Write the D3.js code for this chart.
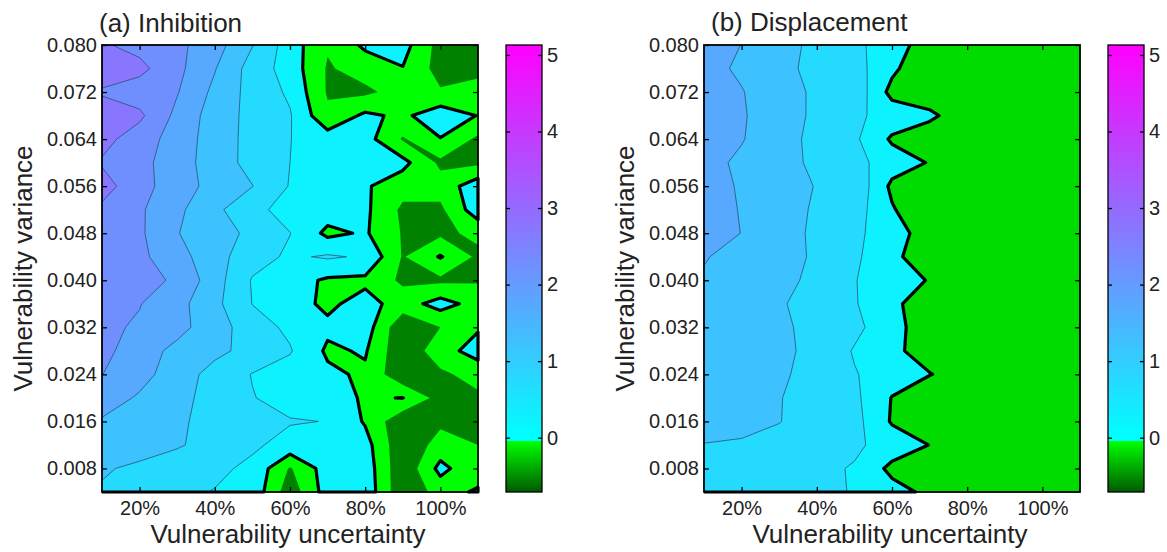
<!DOCTYPE html>
<html>
<head>
<meta charset="utf-8">
<title>Inhibition and displacement</title>
<script src="https://cdn.jsdelivr.net/npm/d3@7"></script>
<style>
  body { margin: 0; background: #fff; }
  svg text { font-family: "Liberation Sans", Arial, sans-serif; fill: #222; }
</style>
</head>
<body>
<svg id="chart" width="1167" height="552"></svg>
<script>
// grid columns: vulnerability uncertainty (%), rows: vulnerability variance (top row first)
const uncertainty = [10, 20, 30, 40, 50, 60, 70, 80, 90, 100, 110];
const variance = [0.080, 0.076, 0.072, 0.068, 0.064, 0.060, 0.056, 0.052, 0.048, 0.044,
                  0.040, 0.036, 0.032, 0.028, 0.024, 0.020, 0.016, 0.012, 0.008, 0.004];
const xTicks = [20, 40, 60, 80, 100];
const yTicks = [0.008, 0.016, 0.024, 0.032, 0.040, 0.048, 0.056, 0.064, 0.072, 0.080];
const cbTicks = [0, 1, 2, 3, 4, 5];

const inhibition = [
  [2.56, 2.34, 2.12, 1.71, 1.02, 0.25, -0.45, 0.10, 0.20, -0.70, -0.70],
  [2.75, 2.64, 2.13, 1.53, 0.79, 0.28, -0.55, -0.30, -0.02, -0.70, -0.65],
  [2.45, 2.24, 2.03, 1.38, 0.82, 0.42, -0.55, -0.60, -0.30, -0.45, -0.30],
  [2.75, 2.60, 1.87, 1.27, 0.85, 0.54, -0.40, 0.10, -0.10, 0.30, -0.02],
  [2.66, 2.25, 1.78, 1.26, 0.84, 0.51, 0.25, 0.20, -0.55, -0.02, -0.60],
  [2.45, 2.15, 1.74, 1.25, 0.84, 0.50, 0.35, 0.20, 0.15, -0.60, -0.60],
  [2.70, 2.19, 1.72, 1.34, 1.01, 0.47, 0.27, 0.06, -0.30, -0.30, 0.30],
  [2.40, 2.07, 1.61, 1.11, 0.65, 0.30, 0.25, 0.10, -0.60, -0.60, 0.30],
  [2.35, 2.08, 1.52, 1.21, 0.89, 0.51, -0.12, 0.06, -0.54, -0.60, -0.40],
  [2.30, 2.11, 1.69, 1.19, 0.70, 0.42, 0.56, 0.44, -0.54, 0.04, -0.60],
  [2.30, 2.14, 1.94, 1.21, 0.46, 0.20, -0.07, -0.11, -0.60, -0.60, -0.55],
  [2.30, 2.02, 1.67, 1.13, 0.49, 0.20, -0.10, 0.19, -0.23, 0.20, -0.20],
  [2.10, 1.94, 1.65, 1.24, 0.72, 0.40, 0.10, 0.25, -0.90, -0.50, -0.05],
  [2.15, 1.72, 1.37, 1.12, 0.84, 0.54, -0.08, 0.05, -0.90, -0.20, 0.20],
  [2.01, 1.67, 1.25, 0.82, 0.48, 0.29, 0.10, -0.08, -0.90, -0.60, -0.30],
  [1.74, 1.44, 1.14, 0.83, 0.52, 0.33, 0.15, -0.04, 0.01, -0.70, -0.60],
  [1.45, 1.26, 1.07, 0.85, 0.60, 0.53, 0.49, -0.05, -0.90, -0.60, -0.60],
  [1.35, 1.20, 1.05, 0.82, 0.57, 0.35, 0.22, 0.20, -0.90, -0.30, -0.50],
  [1.05, 0.91, 0.75, 0.60, 0.40, -0.55, 0.25, 0.30, -0.90, 0.15, -0.40],
  [0.95, 0.75, 0.60, 0.48, 0.35, -0.80, 0.24, 0.35, -0.90, -0.30, 0.10]
];

const displacement = [
  [1.81, 1.49, 1.18, 0.88, 0.63, 0.21, -0.23, -0.35, -0.40, -0.40, -0.40],
  [1.69, 1.41, 1.14, 0.86, 0.70, 0.11, -0.45, -0.40, -0.40, -0.45, -0.40],
  [1.90, 1.53, 1.15, 0.94, 0.84, -0.16, -0.45, -0.40, -0.45, -0.40, -0.40],
  [1.87, 1.55, 1.22, 0.91, 0.60, 0.30, 0.15, -0.45, -0.40, -0.40, -0.45],
  [1.88, 1.53, 1.19, 0.87, 0.59, -0.07, -0.45, -0.40, -0.40, -0.45, -0.40],
  [1.66, 1.41, 1.16, 0.91, 0.66, 0.25, -0.03, -0.45, -0.40, -0.40, -0.40],
  [1.70, 1.45, 1.19, 0.98, 0.89, -0.11, -0.45, -0.40, -0.45, -0.40, -0.45],
  [1.74, 1.47, 1.20, 0.94, 0.73, 0.05, -0.45, -0.40, -0.40, -0.40, -0.40],
  [1.78, 1.49, 1.20, 0.91, 0.62, 0.20, -0.22, -0.40, -0.45, -0.40, -0.40],
  [1.53, 1.34, 1.16, 0.94, 0.59, 0.13, -0.33, -0.40, -0.40, -0.45, -0.40],
  [1.45, 1.29, 1.12, 0.90, 0.52, 0.24, -0.03, -0.40, -0.40, -0.40, -0.45],
  [1.40, 1.23, 1.05, 0.81, 0.54, 0.12, -0.31, -0.45, -0.40, -0.40, -0.40],
  [1.38, 1.23, 1.08, 0.87, 0.63, 0.17, -0.28, -0.40, -0.40, -0.45, -0.40],
  [1.35, 1.22, 1.09, 0.89, 0.46, 0.11, -0.22, -0.40, -0.45, -0.40, -0.40],
  [1.33, 1.20, 1.07, 0.84, 0.53, 0.27, 0.02, -0.23, -0.40, -0.40, -0.45],
  [1.30, 1.16, 1.02, 0.80, 0.61, -0.02, -0.40, -0.40, -0.40, -0.40, -0.40],
  [1.25, 1.13, 1.01, 0.85, 0.67, -0.05, -0.40, -0.45, -0.40, -0.40, -0.40],
  [0.98, 0.95, 0.90, 0.75, 0.59, 0.29, -0.01, -0.35, -0.40, -0.40, -0.40],
  [0.92, 0.85, 0.75, 0.62, 0.46, -0.13, -0.40, -0.40, -0.40, -0.40, -0.40],
  [0.88, 0.80, 0.70, 0.58, 0.48, 0.18, -0.11, -0.40, -0.40, -0.40, -0.40]
];

const panels = [
  { id: "a", title: "(a) Inhibition", values: inhibition, left: 102, titleX: 99, titleY: 32,
    levels: [-0.5, 0, 0.5, 1, 1.5, 2, 2.5], low: "#008200", neg: "#00ff00", cbLeft: 506 },
  { id: "b", title: "(b) Displacement", values: displacement, left: 704, titleX: 711, titleY: 31,
    levels: [0, 0.5, 1, 1.5], low: "#00dc00", neg: "#00dc00", cbLeft: 1108 }
];

const plotTop = 45, plotBottom = 492, plotW = 376, cbW = 36;
const cmin = -0.71, cmax = 5.13;
const cool = d3.interpolateRgb("#00ffff", "#ff00ff");

const svg = d3.select("#chart");
const defs = svg.append("defs");

// colorbar gradient
const grad = defs.append("linearGradient").attr("id", "cbgrad")
  .attr("x1", 0).attr("y1", 1).attr("x2", 0).attr("y2", 0);
const off = v => ((v - cmin) / (cmax - cmin) * 100) + "%";
grad.append("stop").attr("offset", off(cmin)).attr("stop-color", "#005a00");
grad.append("stop").attr("offset", off(-0.05)).attr("stop-color", "#00ff00");
grad.append("stop").attr("offset", off(-0.05)).attr("stop-color", "#00ffff");
grad.append("stop").attr("offset", off(0)).attr("stop-color", "#00ffff");
grad.append("stop").attr("offset", off(cmax)).attr("stop-color", "#ff00ff");

const nx = uncertainty.length, ny = variance.length;

panels.forEach(p => {
  const right = p.left + plotW;
  const x = d3.scaleLinear().domain([10, 110]).range([p.left, right]);
  const y = d3.scaleLinear().domain([0.004, 0.080]).range([plotBottom, plotTop]);
  // grid index -> data value (d3.contours puts sample i at i + 0.5)
  const gx = d3.scaleLinear().domain([0.5, nx - 0.5]).range([uncertainty[0], uncertainty[nx - 1]]);
  const gy = d3.scaleLinear().domain([0.5, ny - 0.5]).range([variance[0], variance[ny - 1]]);
  const px = c => c <= 0 ? p.left - 8 : c >= nx ? right : x(gx(c));
  const py = c => c <= 0 ? plotTop - 8 : c >= ny ? plotBottom : y(gy(c));
  const path = d3.geoPath(d3.geoTransform({
    point(a, b) { this.stream.point(px(a), py(b)); }
  }));

  defs.append("clipPath").attr("id", "clip-" + p.id)
    .append("rect").attr("x", p.left).attr("y", plotTop).attr("width", plotW).attr("height", plotBottom - plotTop);
  defs.append("clipPath").attr("id", "clipk-" + p.id)
    .append("rect").attr("x", p.left).attr("y", plotTop).attr("width", plotW + 6).attr("height", plotBottom - plotTop + 6);

  const bands = d3.contours().size([nx, ny]).thresholds(p.levels)(p.values.flat());

  const g = svg.append("g");
  const fills = g.append("g").attr("clip-path", `url(#clip-${p.id})`);
  fills.append("rect").attr("x", p.left).attr("y", plotTop)
    .attr("width", plotW).attr("height", plotBottom - plotTop).attr("fill", p.low);
  fills.selectAll("path").data(bands).join("path")
    .attr("d", path)
    .attr("fill-rule", "evenodd")
    .attr("fill", d => d.value < 0 ? p.neg : cool((d.value + 0.25) / cmax));

  g.append("g").attr("clip-path", `url(#clip-${p.id})`)
    .selectAll("path").data(bands.filter(d => d.value > 0)).join("path")
    .attr("d", path)
    .attr("fill", "none")
    .attr("stroke", "#2a4660")
    .attr("stroke-opacity", 0.8)
    .attr("stroke-width", 0.9);

  g.append("g").attr("clip-path", `url(#clipk-${p.id})`)
    .selectAll("path").data(bands.filter(d => d.value === 0)).join("path")
    .attr("d", path)
    .attr("fill", "none")
    .attr("stroke", "#000")
    .attr("stroke-width", 3.2)
    .attr("stroke-linejoin", "round");

  // frame and ticks
  g.append("rect").attr("x", p.left).attr("y", plotTop).attr("width", plotW).attr("height", plotBottom - plotTop)
    .attr("fill", "none").attr("stroke", "#000").attr("stroke-width", 1.8);

  const styleAxis = sel => {
    sel.select(".domain").remove();
    sel.selectAll("line").attr("stroke", "#000").attr("stroke-width", 1.3);
    sel.selectAll("text").attr("font-size", 20).style("fill", "#222");
  };
  g.append("g").attr("transform", `translate(0,${plotBottom})`)
    .call(d3.axisBottom(x).tickValues(xTicks).tickSize(-5).tickPadding(9).tickFormat(d => d + "%"))
    .call(styleAxis);
  g.append("g").attr("transform", `translate(0,${plotTop})`)
    .call(d3.axisTop(x).tickValues(xTicks).tickSize(-5).tickFormat(""))
    .call(styleAxis);
  g.append("g").attr("transform", `translate(${p.left},0)`)
    .call(d3.axisLeft(y).tickValues(yTicks).tickSize(-5).tickPadding(5).tickFormat(d3.format(".3f")))
    .call(styleAxis);
  g.append("g").attr("transform", `translate(${right},0)`)
    .call(d3.axisRight(y).tickValues(yTicks).tickSize(-5).tickFormat(""))
    .call(styleAxis);

  // labels
  g.append("text").attr("x", p.titleX).attr("y", p.titleY)
    .attr("font-size", 26).text(p.title);
  g.append("text").attr("x", (p.left + right) / 2 - 2).attr("y", 543)
    .attr("text-anchor", "middle").attr("font-size", 26).text("Vulnerability uncertainty");
  g.append("text").attr("transform", `translate(${p.left - 70},${(plotTop + plotBottom) / 2}) rotate(-90)`)
    .attr("text-anchor", "middle").attr("font-size", 26).text("Vulnerability variance");

  // colorbar
  const cy = d3.scaleLinear().domain([cmin, cmax]).range([plotBottom, plotTop]);
  const cb = svg.append("g");
  cb.append("rect").attr("x", p.cbLeft).attr("y", plotTop).attr("width", cbW).attr("height", plotBottom - plotTop)
    .attr("fill", "url(#cbgrad)").attr("stroke", "#000").attr("stroke-width", 1.3);
  cb.append("g").attr("transform", `translate(${p.cbLeft},0)`)
    .call(d3.axisLeft(cy).tickValues(cbTicks).tickSize(-4).tickFormat(""))
    .call(styleAxis);
  cb.append("g").attr("transform", `translate(${p.cbLeft + cbW},0)`)
    .call(d3.axisRight(cy).tickValues(cbTicks).tickSize(-4).tickPadding(5).tickFormat(d3.format("d")))
    .call(styleAxis);
});
</script>
</body>
</html>
